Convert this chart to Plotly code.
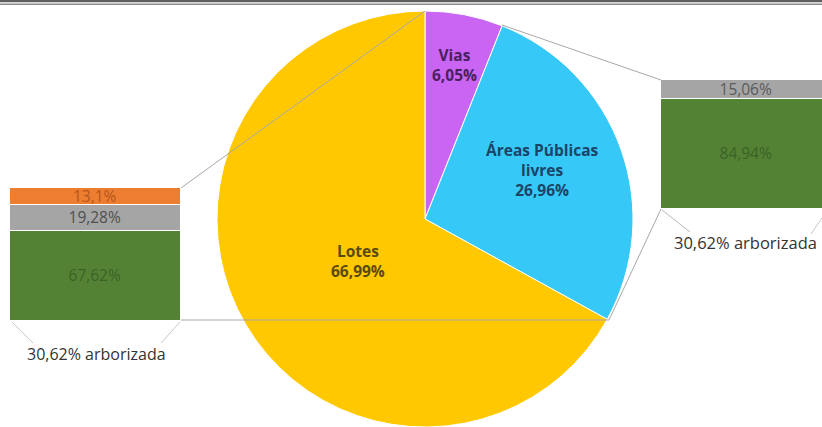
import plotly.graph_objects as go

W, H = 822, 427

# Land-use shares (%)
uso_labels = ["Vias", "Áreas Públicas livres", "Lotes"]
uso_values = [6.05, 26.96, 66.99]
uso_colors = ["#C965F2", "#36C9F7", "#FFC800"]
uso_text_colors = ["#4a2060", "#1d4466", "#5a4a12"]

# Breakdown of "Lotes"
lotes_labels = ["arborizado", "outro", "remanescente"]
lotes_values = [67.62, 19.28, 13.1]
lotes_colors = ["#548235", "#A5A5A5", "#ED7D31"]
lotes_text_colors = ["#3a6226", "#4f4f4f", "#b5561a"]

# Breakdown of "Áreas Públicas livres"
areas_labels = ["arborizado", "outro"]
areas_values = [84.94, 15.06]
areas_colors = ["#548235", "#A5A5A5"]
areas_text_colors = ["#3a6226", "#5a5a5a"]

arborizada_label = "30,62% arborizada"


def pct(v):
    return f"{v:g}".replace(".", ",") + "%"


def px(x):
    return x / W


def py(y):
    return 1 - y / H


fig = go.Figure()

# Main pie
cx, cy, r = 425, 219, 208
fig.add_trace(go.Pie(
    labels=uso_labels, values=uso_values, sort=False, direction="clockwise",
    rotation=0, textinfo="none", hoverinfo="label+percent",
    marker=dict(colors=uso_colors, line=dict(color="white", width=1)),
    domain=dict(x=[px(cx - r), px(cx + r)], y=[py(cy + r), py(cy - r)]),
    showlegend=False,
))

# Stacked bar for "Lotes" (left)
for lab, v, c, tc in zip(lotes_labels, lotes_values, lotes_colors, lotes_text_colors):
    fig.add_trace(go.Bar(
        x=[0], y=[v], name=lab, marker=dict(color=c, line=dict(color="white", width=1.5)),
        text=[pct(v)], textposition="inside", insidetextanchor="middle",
        constraintext="none", textfont=dict(color=tc, size=15.5, family="Open Sans"),
        xaxis="x2", yaxis="y2", showlegend=False, width=1,
    ))

# Stacked bar for "Áreas Públicas livres" (right)
for lab, v, c, tc in zip(areas_labels, areas_values, areas_colors, areas_text_colors):
    fig.add_trace(go.Bar(
        x=[0], y=[v], name=lab, marker=dict(color=c, line=dict(color="white", width=1.5)),
        text=[pct(v)], textposition="inside", insidetextanchor="middle",
        constraintext="none", textfont=dict(color=tc, size=15.5, family="Open Sans"),
        xaxis="x3", yaxis="y3", showlegend=False, width=1,
    ))

hidden = dict(visible=False, fixedrange=True)

# Pie label annotations
annotations = []
label_pos = [(454, 65), (542, 170), (358, 261)]
label_text = ["Vias", "Áreas Públicas<br>livres", "Lotes"]
for (x, y), t, v, tc in zip(label_pos, label_text, uso_values, uso_text_colors):
    annotations.append(dict(
        x=px(x), y=py(y), xref="paper", yref="paper", showarrow=False,
        xanchor="center", yanchor="middle",
        text=f"<b>{t}<br>{pct(v)}</b>", align="center",
        font=dict(size=15.5, color=tc, family="Open Sans"),
    ))

for x, y, s in [(96, 354, 16), (745, 243, 16.5)]:
    annotations.append(dict(
        x=px(x), y=py(y), xref="paper", yref="paper", showarrow=False,
        xanchor="center", yanchor="middle",
        text=arborizada_label, font=dict(size=s, color="#333333", family="Open Sans"),
    ))

# Connector and decoration lines
def seg(x0, y0, x1, y1, color="#a8a8a8", width=1):
    return dict(type="line", xref="paper", yref="paper",
                x0=px(x0), y0=py(y0), x1=px(x1), y1=py(y1),
                line=dict(color=color, width=width), layer="above")

shapes = [
    seg(425, 11, 181, 188),
    seg(181, 320, 609, 320),
    seg(502, 25, 661, 80),
    seg(661, 209, 609, 320),
    seg(12, 322, 33, 343, "#c8c8c8"),
    seg(180, 322, 161, 343, "#c8c8c8"),
    seg(662, 210, 690, 232, "#b8b8b8"),
    seg(822, 218, 811, 234, "#c8c8c8"),
    # top border
    dict(type="rect", xref="paper", yref="paper", x0=0, x1=1, y0=py(2.2), y1=py(0),
         fillcolor="#5e5e5e", line=dict(width=0), layer="above"),
    seg(0, 4.2, 822, 4.2, "#8c8c8c", 1.5),
]

fig.update_layout(
    width=W, height=H, margin=dict(l=0, r=0, t=0, b=0),
    paper_bgcolor="white", plot_bgcolor="white",
    barmode="stack", bargap=0,
    xaxis=dict(visible=False), yaxis=dict(visible=False),
    xaxis2=dict(domain=[px(10), px(181)], range=[-0.5, 0.5], anchor="y2", **hidden),
    yaxis2=dict(domain=[py(321), py(188)], range=[0, 100], anchor="x2", **hidden),
    xaxis3=dict(domain=[px(661), 1], range=[-0.5, -0.5 + 161 / 171], anchor="y3", **hidden),
    yaxis3=dict(domain=[py(209), py(80)], range=[0, 100], anchor="x3", **hidden),
    annotations=annotations, shapes=shapes,
    font=dict(family="Open Sans"),
)

fig.write_html("out.html")
